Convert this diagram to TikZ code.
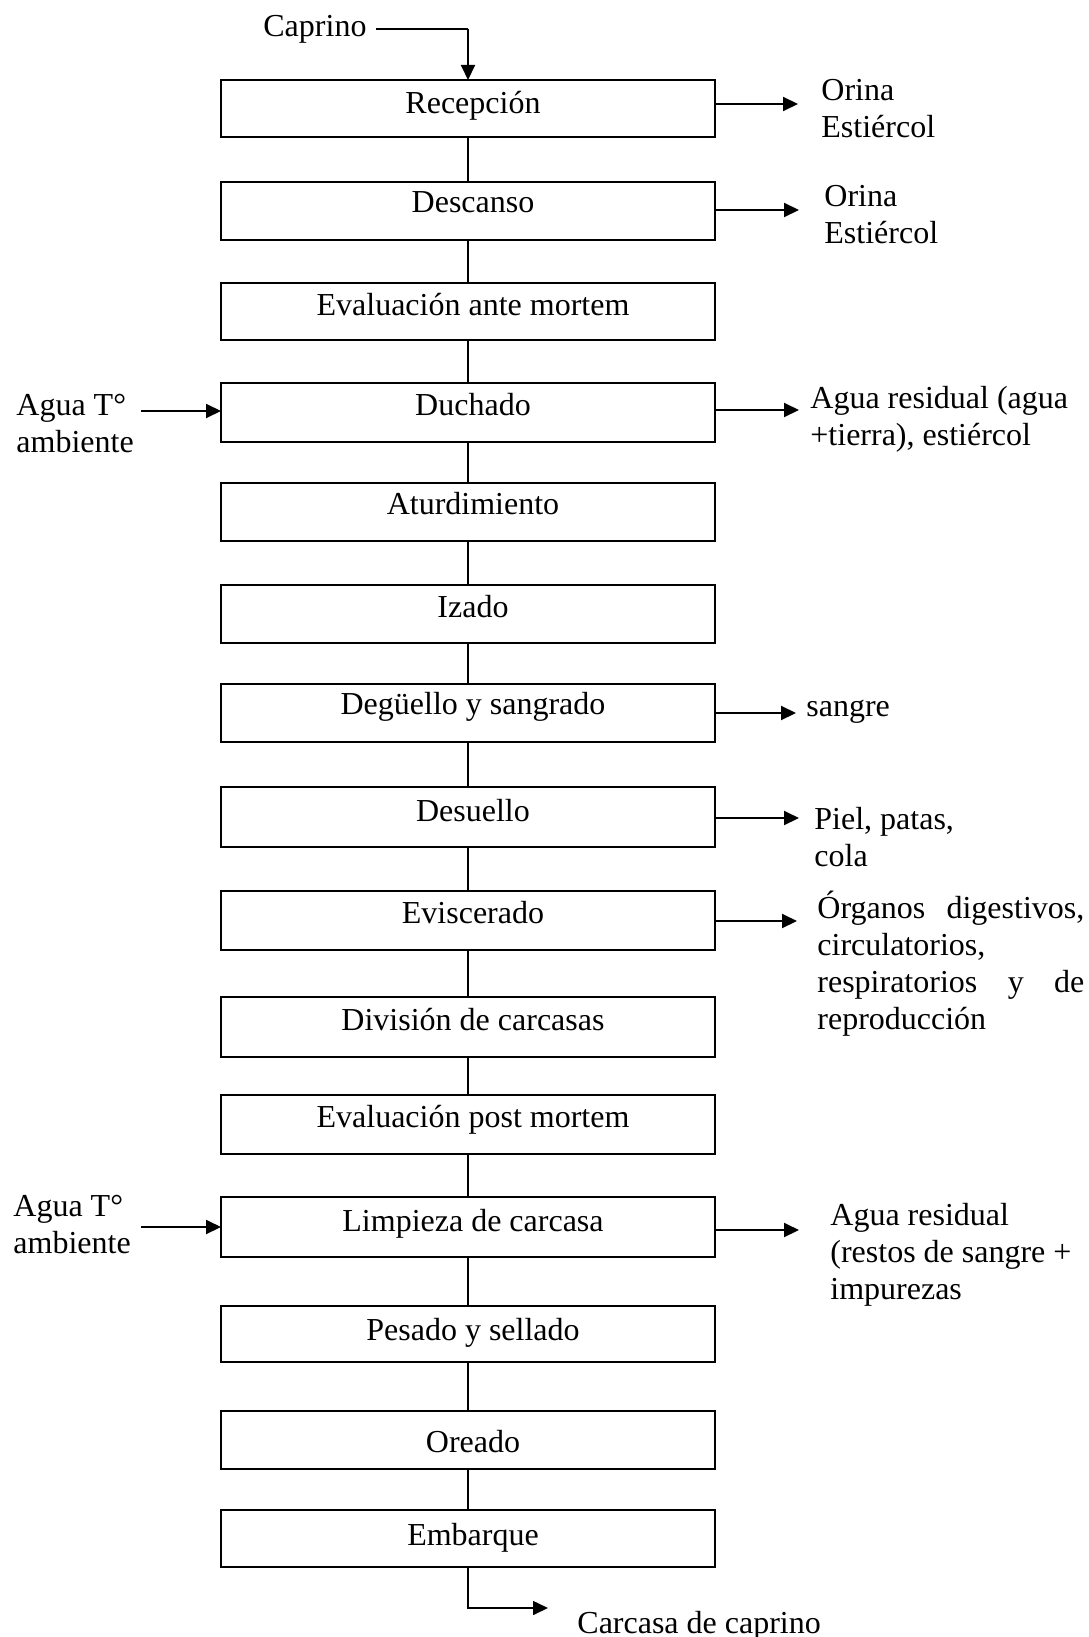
\documentclass[tikz,border=0pt]{standalone}
\usepackage{fontspec}
\setmainfont{Liberation Serif}
\usetikzlibrary{arrows.meta,calc}
\begin{document}
\begin{tikzpicture}[x=0.5pt,y=-0.5pt,
 every node/.style={font=\fontsize{16}{18.5}\selectfont},
 box/.style={draw,line width=1.35pt,minimum width=247pt,inner sep=0pt,outer sep=0pt},
 txt/.style={inner sep=0pt},
 lbl/.style={inner sep=0pt,align=left,anchor=west},
 conn/.style={line width=0.55pt},
 arr/.style={line width=1pt,-{Triangle[length=7.5pt,width=7pt]}},
 thinarr/.style={line width=0.8pt,-{Triangle[length=7.5pt,width=7pt]}}]
\useasboundingbox[fill=white] (0,0) rectangle (1088,1637);

% process boxes
\node[box,minimum height=28.5pt] (b1) at (468,108.5) {};
\node[box,minimum height=29pt] (b2) at (468,211) {};
\node[box,minimum height=28.5pt] (b3) at (468,311.5) {};
\node[box,minimum height=29.5pt] (b4) at (468,412.5) {};
\node[box,minimum height=29pt] (b5) at (468,512) {};
\node[box,minimum height=29pt] (b6) at (468,614) {};
\node[box,minimum height=29pt] (b7) at (468,713) {};
\node[box,minimum height=30pt] (b8) at (468,817) {};
\node[box,minimum height=29.5pt] (b9) at (468,920.5) {};
\node[box,minimum height=30pt] (b10) at (468,1027) {};
\node[box,minimum height=29.5pt] (b11) at (468,1124.5) {};
\node[box,minimum height=30pt] (b12) at (468,1227) {};
\node[box,minimum height=28pt] (b13) at (468,1334) {};
\node[box,minimum height=29pt] (b14) at (468,1440) {};
\node[box,minimum height=28.5pt] (b15) at (468,1538.5) {};

% box texts
\node[txt] (t1) at (473,106) {Recepción};
\node[txt] (t2) at (473,202.5) {Descanso};
\node[txt] (t3) at (473,305) {Evaluación ante mortem};
\node[txt] (t4) at (473,404.5) {Duchado};
\node[txt] (t5) at (473,503.5) {Aturdimiento};
\node[txt] (t6) at (473,607) {Izado};
\node[txt] (t7) at (473,706.5) {Degüello y sangrado};
\node[txt] (t8) at (473,810.5) {Desuello};
\node[txt] (t9) at (473,913) {Eviscerado};
\node[txt] (t10) at (473,1019.5) {División de carcasas};
\node[txt] (t11) at (473,1119.5) {Evaluación post mortem};
\node[txt] (t12) at (473,1224) {Limpieza de carcasa};
\node[txt] (t13) at (473,1332.5) {Pesado y sellado};
\node[txt] (t14) at (473,1442) {Oreado};
\node[txt] (t15) at (473,1538) {Embarque};

% vertical connectors
\foreach \a/\b in {b1/b2,b2/b3,b3/b4,b4/b5,b5/b6,b6/b7,b7/b8,b8/b9,b9/b10,b10/b11,b11/b12,b12/b13,b13/b14,b14/b15}
  \draw[conn] (\a.south) -- (\b.north);

% input
\node[inner xsep=4.5pt,inner ysep=0pt,anchor=west] (cap) at (254,29) {Caprino};
\coordinate (cj) at (cap.east -| b1.north);
\draw[conn] (cap.east) -- (cj);
\draw[arr] (cj) -- (b1.north);

% side outputs
\node[lbl] (o1) at (821,109) {Orina\\Estiércol};
\node[lbl] (o2) at (824,214.5) {Orina\\Estiércol};
\node[lbl] (o3) at (810,419) {Agua residual (agua\\+tierra), estiércol};
\node[lbl] (o4) at (806,712) {sangre};
\node[lbl] (o5) at (814,837.5) {Piel, patas,\\cola};
\node[lbl,text width=133.5pt] (o6) at (817,964) {Órganos\hfill digestivos,\\circulatorios,\\respiratorios\hfill y\hfill de\\reproducción};
\node[lbl] (o7) at (830,1255) {Agua residual\\(restos de sangre +\\impurezas};

\coordinate (r1) at (798,104);
\coordinate (r2) at (799,210);
\coordinate (r3) at (799,410);
\coordinate (r4) at (796,713);
\coordinate (r5) at (799,818);
\coordinate (r6) at (797,921);
\coordinate (r7) at (799,1230);
\draw[arr] (b1.east |- r1) -- (r1);
\draw[arr] (b2.east |- r2) -- (r2);
\draw[arr] (b4.east |- r3) -- (r3);
\draw[arr] (b7.east |- r4) -- (r4);
\draw[arr] (b8.east |- r5) -- (r5);
\draw[arr] (b9.east |- r6) -- (r6);
\draw[arr] (b12.east |- r7) -- (r7);

% side inputs
\node[lbl] (i1) at (16,423.5) {Agua T°\\ambiente};
\node[lbl] (i2) at (13,1224) {Agua T°\\ambiente};
\coordinate (l1) at (141,411);
\coordinate (l2) at (141,1227);
\draw[arr] (l1) -- (l1 -| b4.west);
\draw[arr] (l2) -- (l2 -| b12.west);

% final output
\node[inner sep=0pt,anchor=base west] (out) at (577,1633) {Carcasa de caprino};
\coordinate (bc) at (468,1608);
\coordinate (bt) at (548,1608);
\draw[thinarr] (b15.south) -- (bc) -- (bt);
\end{tikzpicture}
\end{document}
